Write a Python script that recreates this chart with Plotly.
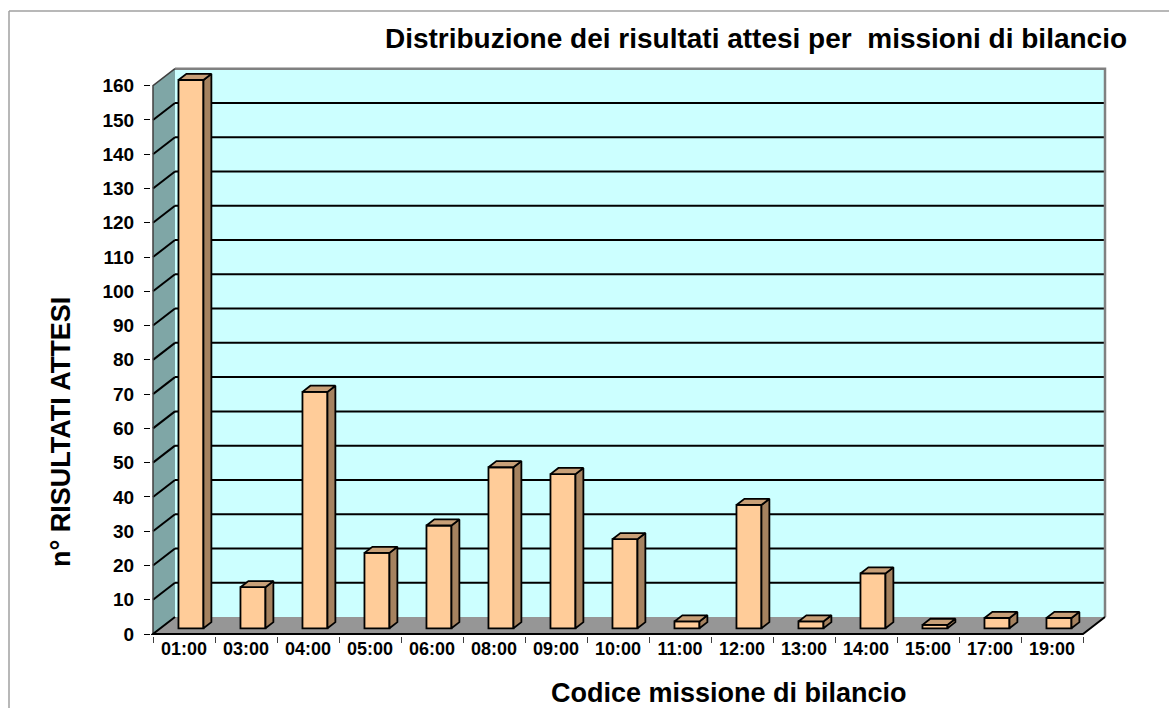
import plotly.graph_objects as go

# data
categories = ["01:00", "03:00", "04:00", "05:00", "06:00", "08:00", "09:00", "10:00",
              "11:00", "12:00", "13:00", "14:00", "15:00", "17:00", "19:00"]
results = [160, 12, 69, 22, 30, 47, 45, 26, 2, 36, 2, 16, 1, 3, 3]
y_ticks = list(range(0, 161, 10))
y_top = 160

# fake 3d geometry (in axis units: 1 slot per category, y in counts)
SLOT_PX = 62.0
UNIT_PX = 3.427
DX = 22 / SLOT_PX          # depth offset, x
DY = 17 / UNIT_PX          # depth offset, y
BAR_FRONT = 0.335          # bar front plane, fraction of depth
BAR_DEPTH = 0.36
BAR_LEFT = 0.292
BAR_WIDTH = 0.403

n = len(categories)
L, R, T, B = 151, 59, 55, 72
W, H = 1169, 708
x_range = [-(153 - L) / SLOT_PX, -(153 - L) / SLOT_PX + (W - L - R) / SLOT_PX]
y_range = [-2 / UNIT_PX, -2 / UNIT_PX + (H - T - B) / UNIT_PX]


def px_x(p):
    return (p - L) / (W - L - R)


def px_y(p):
    return (H - B - p) / (H - T - B)


def path(points):
    return "M " + " L ".join(f"{x},{y}" for x, y in points) + " Z"


shapes = []
# back wall
shapes.append(dict(type="path", layer="below", xref="x", yref="y",
                   path=path([(DX, DY), (n + DX, DY), (n + DX, y_top + DY), (DX, y_top + DY)]),
                   fillcolor="#CCFFFF", line=dict(width=0)))
# left wall
shapes.append(dict(type="path", layer="below", xref="x", yref="y",
                   path=path([(0, 0), (0, y_top), (DX, y_top + DY), (DX, DY)]),
                   fillcolor="#7FA6A6", line=dict(width=0)))
# floor
shapes.append(dict(type="path", layer="below", xref="x", yref="y",
                   path=path([(0, 0), (n, 0), (n + DX, DY), (DX, DY)]),
                   fillcolor="#969696", line=dict(width=0)))
# gridlines on back and left walls
for k in y_ticks[1:-1]:
    shapes.append(dict(type="line", layer="below", xref="x", yref="y",
                       x0=DX, x1=n + DX, y0=k + DY, y1=k + DY,
                       line=dict(color="black", width=2)))
    shapes.append(dict(type="line", layer="below", xref="x", yref="y",
                       x0=0, x1=DX, y0=k, y1=k + DY,
                       line=dict(color="black", width=2)))
# wall edges
shapes.append(dict(type="path", layer="below", xref="x", yref="y",
                   path=f"M {DX},{y_top + DY} L {n + DX},{y_top + DY} L {n + DX},{DY}",
                   line=dict(color="#808080", width=2.5)))
shapes.append(dict(type="path", layer="below", xref="x", yref="y",
                   path=f"M 0,0 L 0,{y_top} L {DX},{y_top + DY}",
                   line=dict(color="#404040", width=1.5)))
shapes.append(dict(type="path", layer="below", xref="x", yref="y",
                   path=f"M {DX},{DY} L 0,0 L {n},0 L {n + DX},{DY}",
                   line=dict(color="black", width=2)))
# outer chart border (top and left)
shapes.append(dict(type="line", xref="paper", yref="paper",
                   x0=px_x(9), x1=px_x(1175), y0=px_y(11), y1=px_y(11),
                   line=dict(color="#A0A0A0", width=1.5)))
shapes.append(dict(type="line", xref="paper", yref="paper",
                   x0=px_x(9), x1=px_x(9), y0=px_y(11), y1=px_y(715),
                   line=dict(color="#A0A0A0", width=1.5)))

x_front = [i + BAR_LEFT + BAR_FRONT * DX for i in range(n)]
base = BAR_FRONT * DY
ox, oy = BAR_DEPTH * DX, BAR_DEPTH * DY

top_x, top_y, side_x, side_y = [], [], [], []
for x0, v in zip(x_front, results):
    x1 = x0 + BAR_WIDTH
    h = base + v
    top_x += [x0, x0 + ox, x1 + ox, x1, x0, None]
    top_y += [h, h + oy, h + oy, h, h, None]
    side_x += [x1, x1 + ox, x1 + ox, x1, x1, None]
    side_y += [base, base + oy, h + oy, h, base, None]

fig = go.Figure()
fig.add_trace(go.Bar(
    x=[x + BAR_WIDTH / 2 for x in x_front], y=results, base=base, width=BAR_WIDTH,
    marker=dict(color="#FFCC99", line=dict(color="black", width=1.8)),
    hovertext=categories, showlegend=False,
))
fig.add_trace(go.Scatter(
    x=side_x, y=side_y, mode="lines", fill="toself", fillcolor="#A5825F",
    line=dict(color="black", width=1.8), hoverinfo="skip", showlegend=False,
))
fig.add_trace(go.Scatter(
    x=top_x, y=top_y, mode="lines", fill="toself", fillcolor="#C8A078",
    line=dict(color="black", width=1.8), hoverinfo="skip", showlegend=False,
))

font_bold = dict(family="Liberation Sans, Arial", color="black", weight="bold")

fig.update_layout(
    width=W, height=H, autosize=False,
    margin=dict(l=L, r=R, t=T, b=B),
    paper_bgcolor="white", plot_bgcolor="white",
    showlegend=False,
    title=dict(
        text="Distribuzione dei risultati attesi per  missioni di bilancio",
        font=dict(size=28, **font_bold),
        x=756 / W, xanchor="center", xref="container",
        y=1 - 38 / H, yanchor="middle", yref="container",
    ),
    xaxis=dict(
        range=x_range, showgrid=False, zeroline=False, showline=False,
        tickmode="array", tickvals=[i + 0.5 for i in range(n)], ticktext=categories,
        ticks="", tickfont=dict(size=18, **font_bold),
        minor=dict(tickmode="array", tickvals=list(range(n + 1)), ticks="outside",
                   ticklen=6, tickwidth=1, tickcolor="#404040"),
    ),
    yaxis=dict(
        range=y_range, showgrid=False, zeroline=False, showline=False,
        tickmode="array", tickvals=y_ticks, ticks="outside", ticklen=6,
        tickwidth=1, tickcolor="black", ticklabelstandoff=6,
        tickfont=dict(size=19, **font_bold),
    ),
    shapes=shapes,
    annotations=[
        dict(text="Codice missione di bilancio", xref="paper", yref="paper",
             x=px_x(729), y=px_y(693), xanchor="center", yanchor="middle",
             showarrow=False, font=dict(size=27, **font_bold)),
        dict(text="n° RISULTATI ATTESI", xref="paper", yref="paper",
             x=px_x(61), y=px_y(432), xanchor="center", yanchor="middle",
             textangle=-90, showarrow=False, font=dict(size=27, **font_bold)),
    ],
)

fig.write_html("out.html", config={"displayModeBar": False},
               post_script="document.body.style.margin='0px';")
